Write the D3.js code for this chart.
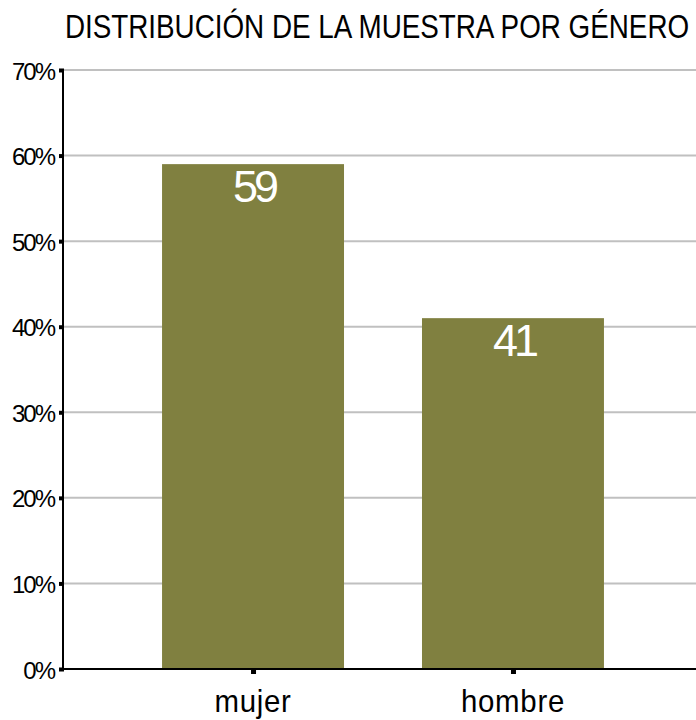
<!DOCTYPE html>
<html><head><meta charset="utf-8">
<script src="https://cdn.jsdelivr.net/npm/d3@7"></script>
<style>html,body{margin:0;padding:0;background:#fff;}</style>
</head><body>
<svg id="c" width="696" height="720"></svg>
<script>
const title = "DISTRIBUCIÓN DE LA MUESTRA POR GÉNERO";
const categories = ["mujer", "hombre"];
const values = [59, 41];
const yTicks = [0, 10, 20, 30, 40, 50, 60, 70];

const svg = d3.select("#c");
const x0 = 63, yBottom = 669, yTop = 70;
const x = d3.scaleBand().domain(categories).range([x0, 703]).paddingInner(0.3).paddingOuter(0.381);
const y = d3.scaleLinear().domain([0, 70]).range([yBottom, yTop]);

svg.append("text").attr("transform", "translate(377,38) scale(1.07,1.28)").attr("text-anchor", "middle")
  .style("font-family", "'Liberation Sans', Arial, sans-serif")
  .style("font-size", "26px").style("letter-spacing", "0px").attr("fill", "#000")
  .text(title);

// gridlines
svg.append("g").selectAll("line").data(yTicks.filter(d => d > 0)).join("line")
  .attr("x1", x0).attr("x2", 696).attr("y1", d => y(d)).attr("y2", d => y(d))
  .attr("stroke", "#c0c0c0").attr("stroke-width", 2);

// bars
svg.append("g").selectAll("rect").data(values).join("rect")
  .attr("x", (d, i) => x(categories[i])).attr("width", x.bandwidth())
  .attr("y", d => y(d)).attr("height", d => yBottom - y(d))
  .attr("fill", "#808040");

// value labels
svg.append("g").selectAll("text").data(values).join("text")
  .attr("x", (d, i) => x(categories[i]) + x.bandwidth() / 2 + 1)
  .attr("y", d => y(d) + 38).attr("text-anchor", "middle")
  .style("font-family", "'Liberation Sans', Arial, sans-serif").style("font-size", "45px")
  .style("letter-spacing", "-4px").attr("fill", "#fff").text(d => d);

// y axis
const yAxis = d3.axisLeft(y).tickValues(yTicks).tickFormat(d => d + "%").tickSize(0).tickPadding(9);
const gy = svg.append("g").attr("transform", `translate(${x0},0)`).call(yAxis);
gy.select(".domain").remove();
gy.selectAll("text").style("font-family", "'Liberation Sans', Arial, sans-serif").style("font-size", "24px")
  .style("letter-spacing", "-2px").attr("fill", "#000").attr("dy", "0.38em");
gy.selectAll(".tick").append("rect").attr("x", -4).attr("y", -2).attr("width", 5).attr("height", 4).attr("fill", "#000");

// x axis
const xAxis = d3.axisBottom(x).tickSize(0).tickPadding(0);
const gx = svg.append("g").attr("transform", `translate(0,${yBottom})`).call(xAxis);
gx.select(".domain").remove();
gx.selectAll("text").attr("y", 43).attr("dy", null)
  .attr("transform", "scale(0.92,1)")
  .style("font-family", "'Liberation Sans', Arial, sans-serif")
  .style("font-size", "32px").style("letter-spacing", "0.8px").attr("fill", "#000");
gx.selectAll(".tick").append("rect").attr("x", -2).attr("y", 0).attr("width", 5).attr("height", 5).attr("fill", "#000");

// axis lines
svg.append("line").attr("x1", x0).attr("x2", x0).attr("y1", yTop - 1).attr("y2", yBottom + 1)
  .attr("stroke", "#000").attr("stroke-width", 2);
svg.append("line").attr("x1", x0 - 1).attr("x2", 696).attr("y1", yBottom).attr("y2", yBottom)
  .attr("stroke", "#000").attr("stroke-width", 2);
</script>
</body></html>
